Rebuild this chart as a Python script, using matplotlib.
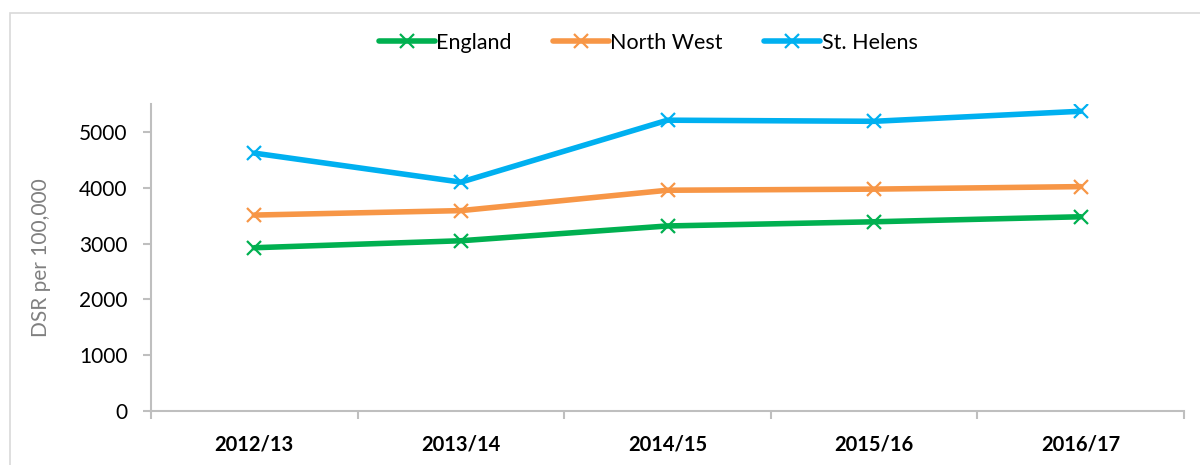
import matplotlib
matplotlib.use("Agg")
import matplotlib.pyplot as plt
from matplotlib.patches import Rectangle

categories = ["2012/13", "2013/14", "2014/15", "2015/16", "2016/17"]
england = [2925, 3050, 3315, 3390, 3480]
north_west = [3510, 3590, 3955, 3975, 4020]
st_helens = [4620, 4100, 5210, 5190, 5370]
series_names = ["England", "North West", "St. Helens"]
colors = ["#00B050", "#F79646", "#00B0F0"]
y_ticks = [0, 1000, 2000, 3000, 4000, 5000]

plt.rcParams['font.family'] = ['Lato', 'DejaVu Sans']

fig = plt.figure(figsize=(12, 4.65), dpi=100)
fig.patches.append(Rectangle((10/1200, -0.1), 1.2, (465-13)/465 + 0.1, transform=fig.transFigure,
                             fill=False, edgecolor="#D9D9D9", linewidth=1.2))
ax = fig.add_axes([151/1200, 54/465, (1184-151)/1200, (411-104)/465])

x = list(range(len(categories)))
for name, vals, c in zip(series_names, [england, north_west, st_helens], colors):
    ax.plot(x, vals, color=c, linewidth=4, marker='x', markersize=10,
            markeredgewidth=1.6, label=name, solid_capstyle='round')

ax.set_xlim(-0.5, len(categories) - 0.5)
ax.set_ylim(0, 5500)
ax.set_yticks(y_ticks)
ax.set_yticklabels([str(v) for v in y_ticks], fontsize=15)
ax.set_xticks(x)
ax.set_xticklabels(categories, fontsize=14.5, fontweight='bold')
ax.set_xticks([i - 0.5 for i in range(len(categories) + 1)], minor=True)
ax.tick_params(axis='x', which='major', length=0, pad=17)
ax.tick_params(axis='x', which='minor', length=6, width=1.5, color="#BFBFBF", direction='out')
ax.tick_params(axis='y', length=6, width=1.5, color="#BFBFBF", pad=11)

for s in ['top', 'right']:
    ax.spines[s].set_visible(False)
for s in ['left', 'bottom']:
    ax.spines[s].set_color("#BFBFBF")
    ax.spines[s].set_linewidth(1.5)

ax.set_ylabel("DSR per 100,000", fontsize=15, color="#808080", labelpad=20)

leg = ax.legend(loc='center', bbox_to_anchor=(648/1200, 1 - 43/465), bbox_transform=fig.transFigure,
                ncol=3, frameon=False, fontsize=15.5, handlelength=2.6, handletextpad=0.08,
                columnspacing=1.9)

fig.savefig("out.png", dpi=100)
